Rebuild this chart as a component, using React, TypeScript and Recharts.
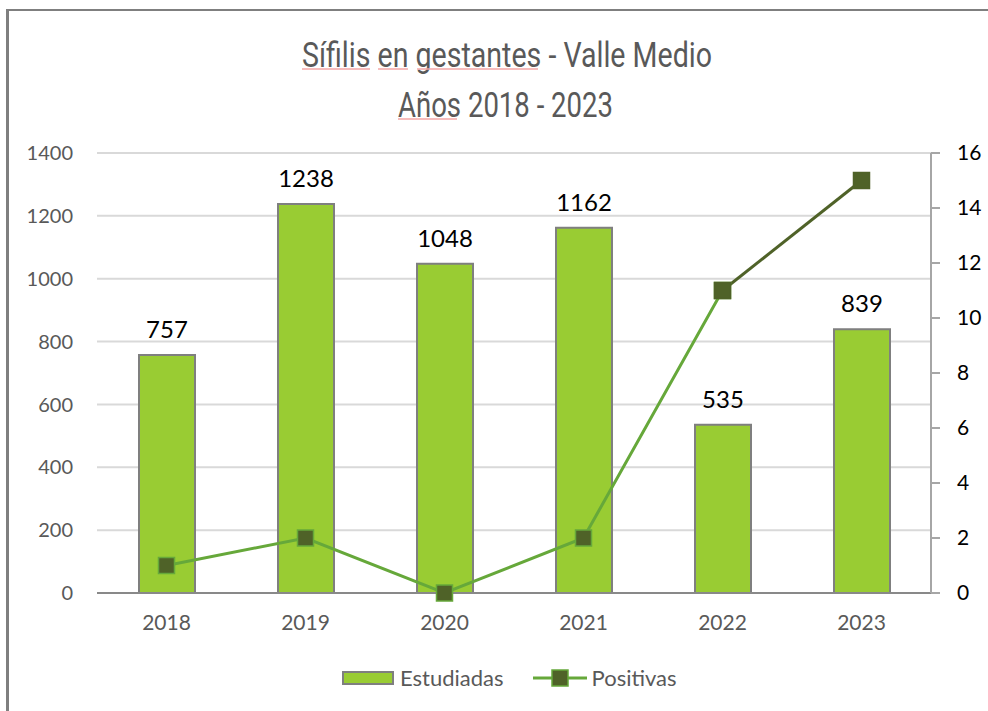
import React from "react";
import {
  ComposedChart,
  Bar,
  Line,
  XAxis,
  YAxis,
  CartesianGrid,
  LabelList,
} from "recharts";

const YEARS = ["2018", "2019", "2020", "2021", "2022", "2023"];
const ESTUDIADAS = [757, 1238, 1048, 1162, 535, 839];
const POSITIVAS = [1, 2, 0, 2, 11, 15];
const LEFT_TICKS = [0, 200, 400, 600, 800, 1000, 1200, 1400];
const RIGHT_TICKS = [0, 2, 4, 6, 8, 10, 12, 14, 16];
const TITLE_1 = "Sífilis en gestantes - Valle Medio";
const TITLE_2 = "Años 2018 - 2023";

const BAR_GREEN = "#99CC33";
const LINE_GREEN = "#66A83A";
const DARK_OLIVE = "#4F6228";
const BAR_BORDER = "#7F7F7F";
const GRID = "#D9D9D9";
const TEXT_GREY = "#595959";
const FONT = "Lato, 'Open Sans', sans-serif";

// the last segment of the line is drawn in dark olive
const splitAt = POSITIVAS.length - 2;
const data = YEARS.map((year, i) => ({
  year,
  estudiadas: ESTUDIADAS[i],
  positivas: i <= splitAt ? POSITIVAS[i] : null,
  tramoFinal: i >= splitAt ? POSITIVAS[i] : null,
}));

function SquareDot(props: any) {
  const { cx, cy, value, index, stroke } = props;
  if (cx == null || cy == null || value == null) return <g key={`e-${index}`} />;
  return (
    <rect
      key={`d-${index}`}
      x={cx - 8}
      y={cy - 8}
      width={16}
      height={16}
      fill={DARK_OLIVE}
      stroke={stroke}
      strokeWidth={1.5}
    />
  );
}

function Title() {
  return (
    <svg width={988} height={140} style={{ position: "absolute", left: 0, top: 0 }}>
      <g fill={TEXT_GREY} fontFamily="Roboto, sans-serif" fontSize={35}>
        <text x={302} y={67} textLength={410} lengthAdjust="spacingAndGlyphs">
          {TITLE_1}
        </text>
        <text x={398} y={117} textLength={215} lengthAdjust="spacingAndGlyphs">
          {TITLE_2}
        </text>
      </g>
      {/* spell-check marks seen in the source */}
      <g stroke="#F4A6A6" strokeWidth={1.5}>
        <line x1={302} x2={370} y1={69} y2={69} />
        <line x1={378} x2={408} y1={69} y2={69} />
        <line x1={417} x2={538} y1={69} y2={69} />
        <line x1={398} x2={457} y1={119} y2={119} />
      </g>
    </svg>
  );
}

function Legend() {
  const label = { color: TEXT_GREY, fontSize: 22, fontFamily: FONT, lineHeight: "22px" };
  return (
    <div style={{ position: "absolute", left: 342, top: 667, display: "flex", alignItems: "center" }}>
      <div style={{ width: 48, height: 10, background: BAR_GREEN, border: `2px solid ${BAR_BORDER}` }} />
      <span style={{ ...label, marginLeft: 6 }}>Estudiadas</span>
      <svg width={56} height={20} style={{ marginLeft: 28 }}>
        <line x1={1} x2={55} y1={10} y2={10} stroke={LINE_GREEN} strokeWidth={3} />
        <rect x={20} y={2} width={16} height={16} fill={DARK_OLIVE} stroke={LINE_GREEN} strokeWidth={1.5} />
      </svg>
      <span style={{ ...label, marginLeft: 4 }}>Positivas</span>
    </div>
  );
}

export default function App() {
  return (
    <div style={{ position: "absolute", left: 0, top: 0, width: 988, height: 711, background: "#fff", overflow: "hidden" }}>
      <div
        style={{
          position: "absolute",
          left: 6,
          top: 9,
          width: 1000,
          height: 720,
          borderLeft: `3px solid ${BAR_BORDER}`,
          borderTop: `2px solid ${BAR_BORDER}`,
        }}
      />
      <Title />
      <div style={{ position: "absolute", left: 0, top: 0 }}>
        <ComposedChart
          width={988}
          height={711}
          data={data}
          margin={{ top: 153, right: 0, bottom: 78, left: 0 }}
        >
          <CartesianGrid yAxisId="left" vertical={false} stroke={GRID} strokeWidth={2} />
          <XAxis
            dataKey="year"
            height={40}
            tickLine={false}
            tickSize={0}
            tickMargin={22}
            axisLine={{ stroke: "#898989", strokeWidth: 2 }}
            tick={{ fill: TEXT_GREY, fontSize: 21, fontFamily: FONT }}
          />
          <YAxis
            yAxisId="left"
            width={97}
            domain={[0, 1400]}
            ticks={LEFT_TICKS}
            axisLine={false}
            tickLine={false}
            tickSize={0}
            tickMargin={24}
            tick={{ fill: TEXT_GREY, fontSize: 20, fontFamily: FONT }}
          />
          <YAxis
            yAxisId="right"
            orientation="right"
            width={57}
            domain={[0, 16]}
            ticks={RIGHT_TICKS}
            axisLine={{ stroke: "#A6A6A6", strokeWidth: 2 }}
            tickLine={{ stroke: "#A6A6A6", strokeWidth: 2 }}
            tickSize={9}
            tickMargin={17}
            tick={{ fill: "#000", fontSize: 21, fontFamily: FONT }}
          />
          <Bar
            yAxisId="left"
            dataKey="estudiadas"
            name="Estudiadas"
            barSize={56}
            fill={BAR_GREEN}
            stroke={BAR_BORDER}
            strokeWidth={2}
            isAnimationActive={false}
          >
            <LabelList
              dataKey="estudiadas"
              position="top"
              offset={17}
              fill="#000"
              fontSize={24}
              fontFamily={FONT}
            />
          </Bar>
          <Line
            yAxisId="right"
            dataKey="positivas"
            name="Positivas"
            stroke={LINE_GREEN}
            strokeWidth={3}
            dot={<SquareDot />}
            activeDot={false}
            isAnimationActive={false}
          />
          <Line
            yAxisId="right"
            dataKey="tramoFinal"
            stroke={DARK_OLIVE}
            strokeWidth={3}
            dot={<SquareDot />}
            activeDot={false}
            legendType="none"
            isAnimationActive={false}
          />
        </ComposedChart>
      </div>
      <Legend />
    </div>
  );
}
